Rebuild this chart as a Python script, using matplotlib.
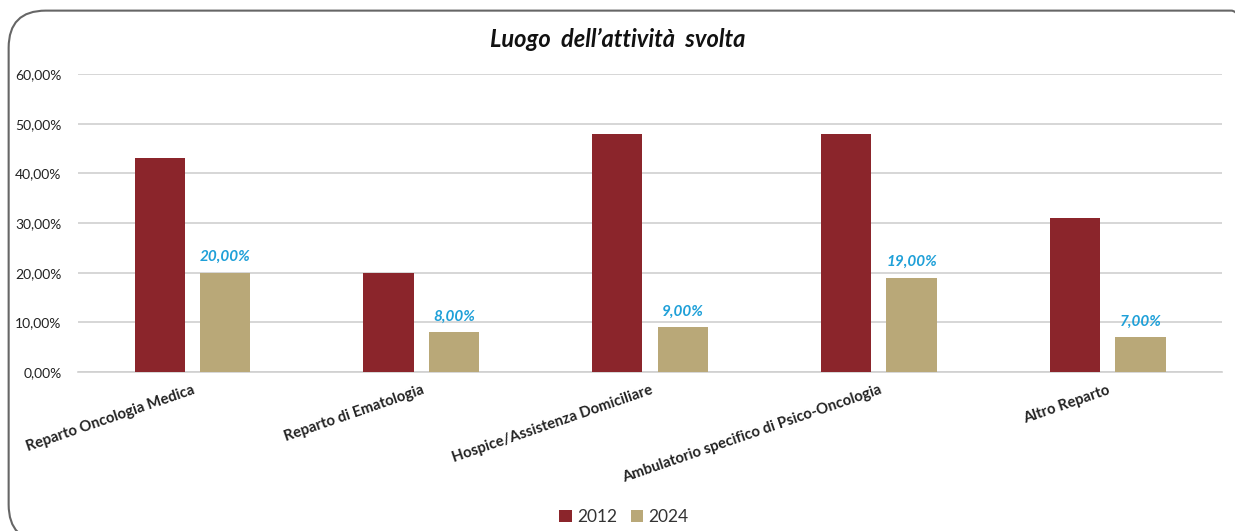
import numpy as np
import matplotlib
matplotlib.use('Agg')
import matplotlib.pyplot as plt
from matplotlib.patches import FancyBboxPatch
from matplotlib.ticker import FuncFormatter

plt.rcParams['font.family'] = ['Lato', 'DejaVu Sans']

# dati
categories = [
    'Reparto Oncologia Medica',
    'Reparto di Ematologia',
    'Hospice/Assistenza Domiciliare',
    'Ambulatorio specifico di Psico-Oncologia',
    'Altro Reparto',
]
values_2012 = [0.43, 0.20, 0.48, 0.48, 0.31]
values_2024 = [0.20, 0.08, 0.09, 0.19, 0.07]
series_names = ['2012', '2024']

color_2012 = '#8b252b'
color_2024 = '#b9a878'
label_color = '#1fa0d8'

fig = plt.figure(figsize=(12.35, 5.31), dpi=100)
ax = fig.add_axes([0.0632, 0.2994, 0.9263, 0.5612])

x = np.arange(len(categories))
width = 0.22
offset = 0.143

b1 = ax.bar(x - offset, values_2012, width, color=color_2012, label=series_names[0], zorder=3)
b2 = ax.bar(x + offset, values_2024, width, color=color_2024, label=series_names[1], zorder=3)

# etichette dati solo per il 2024
for rect, v in zip(b2, values_2024):
    ax.text(rect.get_x() + rect.get_width() / 2, v + 0.018,
            f'{v*100:.2f}%'.replace('.', ','),
            ha='center', va='bottom', color=label_color,
            fontsize=11, fontweight='bold', style='italic')

ax.set_xlim(-0.5, len(categories) - 0.5)
ax.set_ylim(0, 0.6)
ax.set_yticks(np.arange(0, 0.61, 0.1))
ax.yaxis.set_major_formatter(FuncFormatter(lambda v, _: f'{v*100:.2f}%'.replace('.', ',')))
ax.grid(axis='y', color='#d0d0d0', linewidth=1.2, zorder=0)

for s in ['top', 'right', 'left']:
    ax.spines[s].set_visible(False)
ax.spines['bottom'].set_color('#d0d0d0')
ax.spines['bottom'].set_linewidth(1.2)

ax.tick_params(axis='y', length=0, labelsize=10, labelcolor='#222222', pad=12)
ax.tick_params(axis='x', length=0, pad=8)
ax.set_xticks(x)
ax.set_xticklabels(categories, rotation=19, ha='right', rotation_mode='anchor',
                   fontsize=10.7, fontweight='bold', color='#222222')

fig.text(0.5, 0.925, 'Luogo  dell\u2019attività  svolta', ha='center', va='center',
         fontsize=17, fontweight='bold', style='italic', color='#111111')

ax.legend(loc='lower center', bbox_to_anchor=(0.477, -0.565), ncol=2, frameon=False,
          fontsize=12.5, handlelength=0.7, handleheight=0.7, handletextpad=0.3,
          columnspacing=0.8, labelcolor='#333333')

# cornice arrotondata
frame = FancyBboxPatch((0.007, -0.02), 1.02, 1.0, transform=fig.transFigure,
                       boxstyle='round,pad=0,rounding_size=0.03',
                       fill=False, edgecolor='#666666', linewidth=1.5,
                       mutation_aspect=1235 / 531)
fig.patches.append(frame)

plt.savefig('out.png', dpi=100)
